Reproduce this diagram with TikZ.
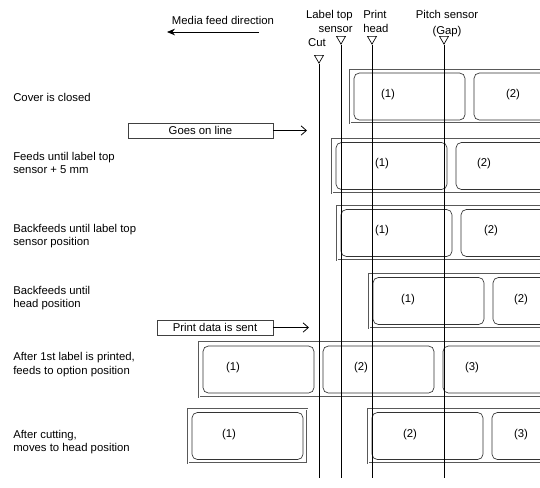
\documentclass[tikz,border=0pt]{standalone}
\usepackage{fontspec}
\setmainfont{Liberation Sans}
\usetikzlibrary{shapes.geometric,arrows.meta}

\begin{document}
\begin{tikzpicture}[x=0.75pt, y=-0.75pt,
  font=\fontsize{8.5}{10}\selectfont,
  every node/.style={inner sep=0pt},
  strip/.style={draw=gray!70!black, line width=0.35pt, double=white, double distance=0.5pt},
  piece/.style={draw=black!80, line width=0.5pt, rounded corners=4pt,
    minimum width=83.25pt, minimum height=35.25pt},
  sensor/.style={draw, line width=0.5pt, regular polygon, regular polygon sides=3,
    shape border rotate=180, minimum size=7.8pt, anchor=north},
  msgbox/.style={draw=black!75, line width=0.5pt, minimum height=11.25pt},
  step text/.style={anchor=west, align=left},
  feed/.style={line width=0.6pt, -{Straight Barb[length=4pt,width=7pt]}}
]

\path[use as bounding box] (0,0) rectangle (540,487);
\clip (0,0) rectangle (540,487);

% Define nodes
\path
(223,20) node (feedtxt) {Media feed direction}
(259,32) coordinate (feedR)
(167,32) coordinate (feedL)
(353,21.5) node[anchor=east, align=right] (toptxt) {Label top\\sensor}
(363,21.5) node[anchor=west, align=left] (headtxt) {Print\\head}
(447,23.5) node[align=center] (gaptxt) {Pitch sensor\\[2pt](Gap)}
(317,43) node (cuttxt) {Cut}
(319,55) node[sensor] (cut) {}
(341,36) node[sensor] (top) {}
(372,36) node[sensor] (head) {}
(444,36) node[sensor] (gap) {}
(319,478) coordinate (cutEnd)
(341,478) coordinate (topEnd)
(372,478) coordinate (headEnd)
(444,478) coordinate (gapEnd)
;

% Steps
\path
(13,97) node[step text] (s1) {Cover is closed}
(13,163) node[step text] (s2) {Feeds until label top\\sensor + 5 mm}
(13,236) node[step text] (s3) {Backfeeds until label top\\sensor position}
(13,298) node[step text] (s4) {Backfeeds until\\head position}
(13,364.5) node[step text] (s5) {After 1st label is printed,\\feeds to option position}
(13,442) node[step text] (s6) {After cutting,\\moves to head position}
;

\node[msgbox, minimum width=108.75pt] (online) at (200.5,130.5) {Goes on line};
\coordinate (onlineEnd) at (307,130.5);
\node[msgbox, minimum width=87pt] (sent) at (215,327.5) {Print data is sent};
\coordinate (sentEnd) at (309,327.5);

% Media strips
\draw[strip] (350,70) rectangle (560,123);
\draw[strip] (332,139) rectangle (560,193);
\draw[strip] (337,206) rectangle (560,260);
\draw[strip] (369,274) rectangle (560,328);
\draw[strip] (199,342) rectangle (560,397);
\draw[strip] (188,409) rectangle (307,463);
\draw[strip] (368,409) rectangle (560,463);

% Labels
\path
(409.5,96.5) node[piece] (r1a) {} (529.5,96.5) node[piece] (r1b) {}
(391.5,166) node[piece] (r2a) {} (511.5,166) node[piece] (r2b) {}
(396.5,233) node[piece] (r3a) {} (516.5,233) node[piece] (r3b) {}
(428.5,301) node[piece] (r4a) {} (548.5,301) node[piece] (r4b) {}
(258.5,369.5) node[piece] (r5a) {} (378.5,369.5) node[piece] (r5b) {}
(498.5,369.5) node[piece] (r5c) {}
(247.5,436) node[piece] (r6a) {} (427.5,436) node[piece] (r6b) {}
(547.5,436) node[piece] (r6c) {}
;
\path
(388,95) node (t1a) {(1)} (513,95) node (t1b) {(2)}
(382,164) node (t2a) {(1)} (484,164) node (t2b) {(2)}
(382,231) node (t3a) {(1)} (491,231) node (t3b) {(2)}
(408,300) node (t4a) {(1)} (521,300) node (t4b) {(2)}
(233,368) node (t5a) {(1)} (361,368) node (t5b) {(2)} (472,368) node (t5c) {(3)}
(229,435) node (t6a) {(1)} (410,435) node (t6b) {(2)} (521,435) node (t6c) {(3)}
;

\draw[line width=0.6pt, -{Stealth[length=6pt,width=5pt]}] (feedR) -- (feedL);
\draw[feed] (online) -- (onlineEnd);
\draw[feed] (sent) -- (sentEnd);

% Sensor lines
\draw[line width=0.6pt]
(cut.south) -- (cutEnd)
(top.south) -- (topEnd)
(head.south) -- (headEnd)
(gap.south) -- (gapEnd)
;

\end{tikzpicture}
\end{document}
